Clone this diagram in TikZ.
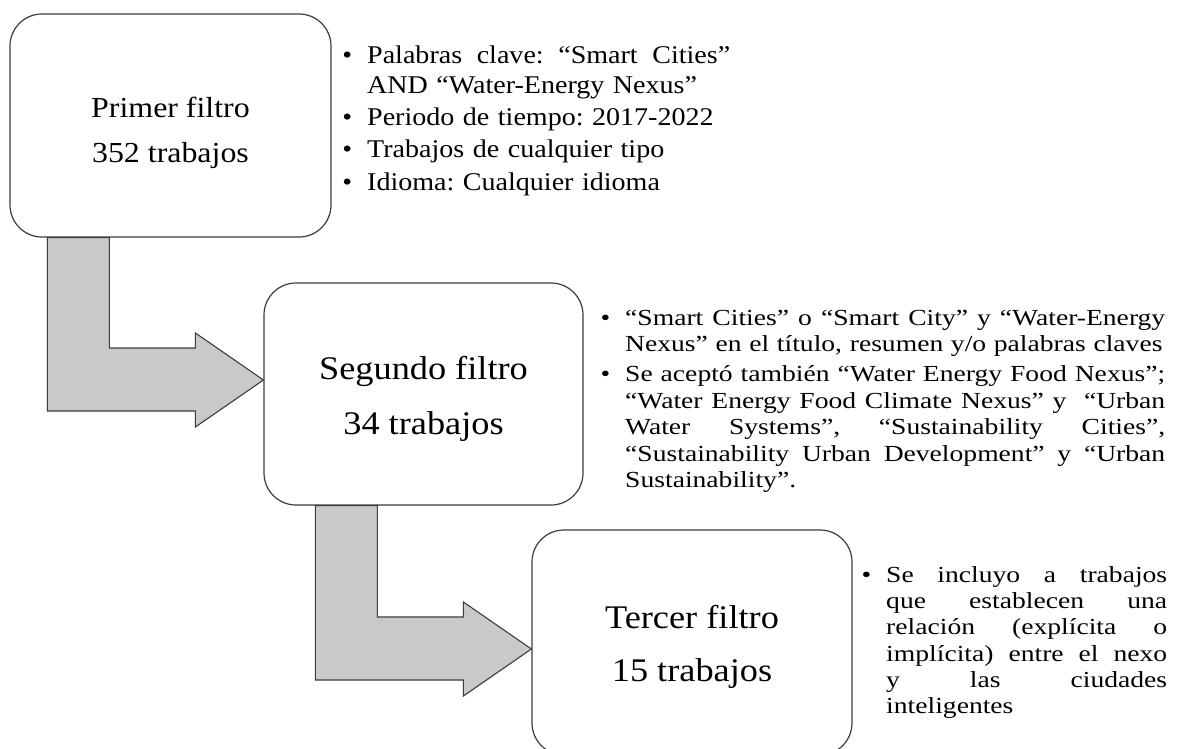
\documentclass[tikz,border=0pt]{standalone}
\usepackage{fontspec}
\setmainfont{Liberation Serif}[FakeStretch=1.1]
\newfontfamily\listfontA{Liberation Serif}[FakeStretch=1.1]
\newfontfamily\listfontB{Liberation Serif}[FakeStretch=1.2]
\usetikzlibrary{calc}
\definecolor{edge}{HTML}{3C3C3C}
\definecolor{arrowfill}{HTML}{C9C9C9}
\tikzset{
  filterbox/.style={draw=edge, line width=1.2pt, fill=white, rounded corners=32pt,
    inner sep=0pt, align=center},
  blockarrow/.style={draw=edge, line width=1.1pt, fill=arrowfill, line join=miter},
  bulletlist/.style={inner sep=0pt, anchor=north west},
}
\frenchspacing
\newlength\lw
\newcommand\JL[1]{\noindent\makebox[\lw][s]{\spaceskip=\fontdimen2\font plus 1fil\relax
  \xspaceskip=\spaceskip #1}\par}
\newcommand\NL[1]{\noindent #1\par}
\newcommand\BU{\llap{•\hspace{15pt}}}
\newcommand\bentarrow[4]{%
  \draw[blockarrow] let \p1=($(#1.south west)+(#2,0)$), \p2=($(#3.west)+(0,#4)$) in
    (\x1,\y1) -- (\x1+62pt,\y1) -- (\x1+62pt,\y2+32pt) -- (\x2-68pt,\y2+32pt)
    -- (\x2-68pt,\y2+47pt) -- (\x2,\y2) -- (\x2-68pt,\y2-47pt) -- (\x2-68pt,\y2-31pt)
    -- (\x1,\y2-31pt) -- cycle;}
\begin{document}
\begin{tikzpicture}[x=1pt,y=-1pt]
\useasboundingbox (0,0) rectangle (1181,749);

% boxes
\node[filterbox, minimum width=321pt, minimum height=223pt,
      font=\fontsize{29}{45}\selectfont] (b1) at (170.5,125.5)
      {\rule{0pt}{35pt}Primer filtro\\352 trabajos};
\node[filterbox, minimum width=319pt, minimum height=222pt,
      font=\fontsize{33}{55}\selectfont] (b2) at (423.5,394)
      {\rule{0pt}{34pt}Segundo filtro\\34 trabajos};
\node[filterbox, minimum width=320pt, minimum height=225pt,
      font=\fontsize{33}{53}\selectfont] (b3) at (692,642.5)
      {\rule{0pt}{32pt}Tercer filtro\\15 trabajos};

% block arrows
\bentarrow{b1}{38}{b2}{-14}
\bentarrow{b2}{52}{b3}{6.5}

% bullet lists
\node[bulletlist, text width=363pt, font=\listfontA\fontsize{25.5}{30}\selectfont]
  (l1) at (367,43) {\setlength\lw{363pt}%
  \JL{\rule{0pt}{20pt}\BU Palabras clave: “Smart Cities”}
  \NL{AND “Water-Energy Nexus”}
  \vspace{2.3pt}
  \NL{\BU Periodo de tiempo: 2017-2022}
  \vspace{2.3pt}
  \NL{\BU Trabajos de cualquier tipo}
  \vspace{2.3pt}
  \NL{\BU Idioma: Cualquier idioma}};

\node[bulletlist, text width=540pt, font=\listfontB\fontsize{23}{26.5}\selectfont]
  (l2) at (625,307) {\setlength\lw{540pt}%
  \JL{\rule{0pt}{18pt}\BU “Smart Cities” o “Smart City” y “Water-Energy}
  \NL{Nexus” en el título, resumen y/o palabras claves}
  \vspace{3.5pt}
  \JL{\BU Se aceptó también “Water Energy Food Nexus”;}
  \JL{“Water Energy Food Climate Nexus” y \ “Urban}
  \JL{Water Systems”, “Sustainability Cities”,}
  \JL{“Sustainability Urban Development” y “Urban}
  \NL{Sustainability”.}};

\node[bulletlist, text width=281pt, font=\listfontB\fontsize{23}{26.3}\selectfont]
  (l3) at (886,564) {\setlength\lw{281pt}%
  \JL{\rule{0pt}{18pt}\BU Se incluyo a trabajos}
  \JL{que establecen una}
  \JL{relación (explícita o}
  \JL{implícita) entre el nexo}
  \JL{y las ciudades}
  \NL{inteligentes}};
\end{tikzpicture}
\end{document}
